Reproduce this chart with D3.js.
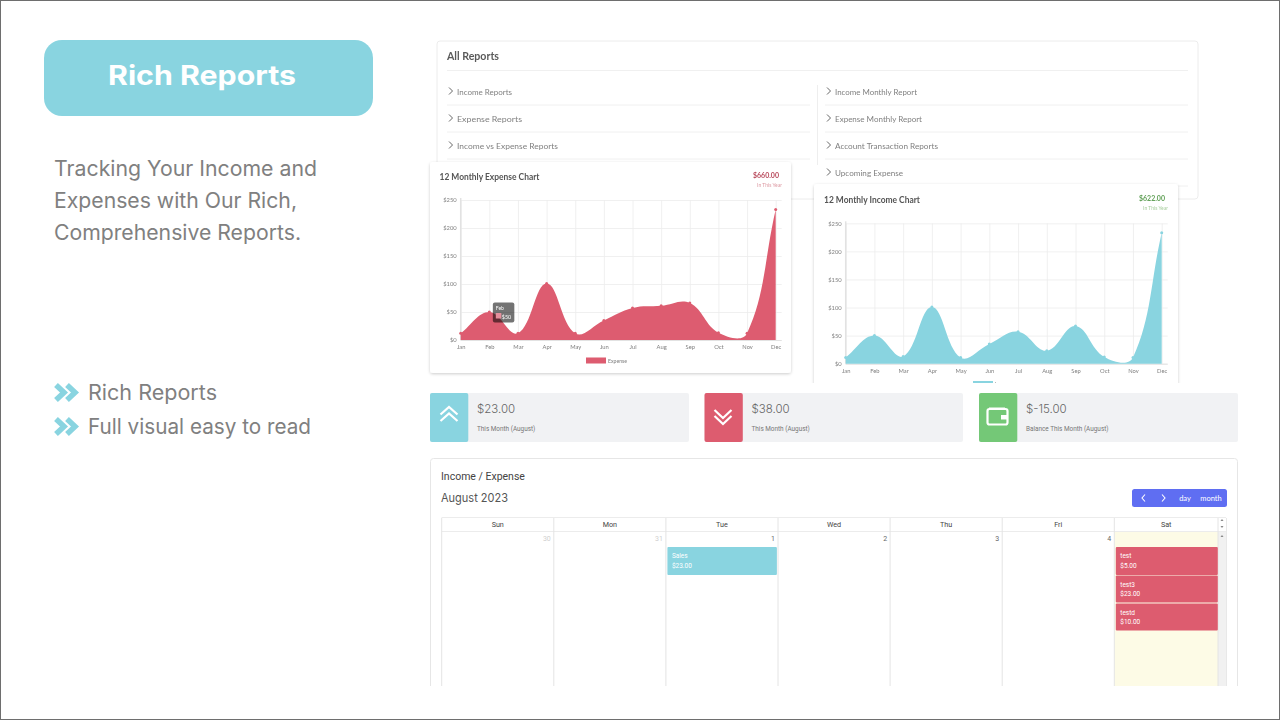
<!DOCTYPE html>
<html><head><meta charset="utf-8">
<script src="https://cdn.jsdelivr.net/npm/d3@7/dist/d3.min.js"></script>
<style>html,body{margin:0;padding:0;background:#fff}svg{display:block}text{font-family:Lato,"Open Sans",sans-serif}</style>
</head><body><div id="c"></div>
<script>
(function(){
const months=["Jan","Feb","Mar","Apr","May","Jun","Jul","Aug","Sep","Oct","Nov","Dec"];
const expenseValues=[12,50,12,101,12,35,57,61,66,13,12,233];
const incomeValues=[11,50,13,101,11,35,57,23,67,12,11,233];
const yTicks=[0,50,100,150,200,250];
const reportsLeft=["Income Reports","Expense Reports","Income vs Expense Reports"];
const reportsRight=["Income Monthly Report","Expense Monthly Report","Account Transaction Reports","Upcoming Expense"];
const bullets=["Rich Reports","Full visual easy to read"];
const introLines=["Tracking Your Income and","Expenses with Our Rich,","Comprehensive Reports."];
const weekdays=["Sun","Mon","Tue","Wed","Thu","Fri","Sat"];
const dayNumbers=["30","31","1","2","3","4",""];
const statValues=["$23.00","$38.00","$-15.00"];
const statLabels=["This Month (August)","This Month (August)","Balance This Month (August)"];
const satEvents=[["test","$5.00"],["test3","$23.00"],["testd","$10.00"]];
const teal="#89d4e0",red="#dd5c6f",green="#74c877",grey="#808080";

const svg=d3.select("#c").append("svg").attr("width",1280).attr("height",720);
const defs=svg.append("defs");
const sh=defs.append("filter").attr("id","sh").attr("x","-5%").attr("y","-5%").attr("width","110%").attr("height","110%");
sh.append("feDropShadow").attr("dx",0).attr("dy",1).attr("stdDeviation",1.6).attr("flood-color","#000").attr("flood-opacity",.2);
const bl=defs.append("filter").attr("id","bl").attr("x","-2%").attr("y","-2%").attr("width","104%").attr("height","104%");
bl.append("feGaussianBlur").attr("stdDeviation",.5);
defs.append("clipPath").attr("id","clipTop").append("rect").attr("x",420).attr("y",30).attr("width",800).attr("height",353);
defs.append("clipPath").attr("id","clipCal").append("rect").attr("x",425).attr("y",450).attr("width",820).attr("height",236);

function txt(g,s,x,y,size,fill,o={}){
  const t=g.append("text").attr("x",x).attr("y",y).attr("font-size",size).attr("fill",fill).text(s);
  if(o.anchor)t.attr("text-anchor",o.anchor);
  if(o.weight)t.attr("font-weight",o.weight);
  if(o.family)t.style("font-family",o.family);
  if(o.len)t.attr("textLength",o.len).attr("lengthAdjust","spacingAndGlyphs");
  return t;
}
function chev(g,x,y,w,h,stroke,sw){
  g.append("path").attr("d",d3.line()([[x,y-h],[x+w,y],[x,y+h]])).attr("fill","none").attr("stroke",stroke).attr("stroke-width",sw);
}
svg.append("rect").attr("x",.5).attr("y",.5).attr("width",1279).attr("height",719).attr("fill","#fff").attr("stroke","#6e6e6e");

/* left panel */
svg.append("rect").attr("x",44).attr("y",40).attr("width",329).attr("height",76).attr("rx",18).attr("fill",teal);
txt(svg,"Rich Reports",202,85,27,"#fff",{anchor:"middle",weight:700,family:"Inter",len:188});
const introWidths=[263,243,247];
introLines.forEach((l,i)=>txt(svg,l,54,176+i*32,21,grey,{family:"Inter",len:introWidths[i]}));
const bulletWidths=[129,223];
bullets.forEach((l,i)=>{
  const y=393+i*34;
  [0,11].forEach(dx=>chev(svg,56+dx,y-.5,8,7.5,teal,5.5));
  txt(svg,l,88,y+7,21,grey,{family:"Inter",len:bulletWidths[i]});
});

/* blurred screenshot region */
const shot=svg.append("g").attr("clip-path","url(#clipTop)").append("g").attr("filter","url(#bl)");
shot.append("rect").attr("x",437).attr("y",41).attr("width",761).attr("height",158).attr("rx",3).attr("fill","#fff").attr("stroke","#ececec");
txt(shot,"All Reports",447,60,10.5,"#5a5a5a",{weight:700,len:52});
shot.append("line").attr("x1",447).attr("x2",1188).attr("y1",70.5).attr("y2",70.5).attr("stroke","#f0f0f0");
shot.append("line").attr("x1",817.5).attr("x2",817.5).attr("y1",85).attr("y2",165).attr("stroke","#eee");
const rowY=d3.scaleLinear().domain([0,1]).range([94.5,121.5]);
const leftLens=[55,65,101],rightLens=[82,87,103,68];
function reportRows(list,lens,xc,xt,xe){
  list.forEach((s,i)=>{
    const y=rowY(i);
    chev(shot,xc,y-3.5,3.5,3.5,"#666",1);
    txt(shot,s,xt,y,8,"#808080",{len:lens[i]});
    shot.append("line").attr("x1",xc-2).attr("x2",xe).attr("y1",y+10.5).attr("y2",y+10.5).attr("stroke","#f0f0f0");
  });
}
reportRows(reportsLeft,leftLens,449,457,810);
reportRows(reportsRight,rightLens,827,835,1188);

function chartjsPath(pts){
  const t=.4,p=d3.path();
  const d=(a,b)=>Math.hypot(a[0]-b[0],a[1]-b[1]);
  const ctrl=pts.map((c,i)=>{
    const a=pts[i-1]||c,b=pts[i+1]||c,d01=d(a,c),d12=d(c,b);
    const s=d01+d12||1,fa=t*d01/s,fb=t*d12/s;
    return {prev:[c[0]-fa*(b[0]-a[0]),c[1]-fa*(b[1]-a[1])],next:[c[0]+fb*(b[0]-a[0]),c[1]+fb*(b[1]-a[1])]};
  });
  p.moveTo(pts[0][0],pts[0][1]);
  for(let i=1;i<pts.length;i++)p.bezierCurveTo(ctrl[i-1].next[0],ctrl[i-1].next[1],ctrl[i].prev[0],ctrl[i].prev[1],pts[i][0],pts[i][1]);
  return p.toString();
}
function chartCard(o){
  const g=shot.append("g");
  g.append("rect").attr("x",o.box[0]).attr("y",o.box[1]).attr("width",o.box[2]).attr("height",o.box[3]).attr("rx",3).attr("fill","#fff").attr("filter","url(#sh)");
  txt(g,o.title,o.titleX,o.titleY,8.5,"#555",{weight:700,len:o.titleLen});
  txt(g,o.total,o.totalX,o.titleY-2,7,o.totalColor,{anchor:"end",weight:700});
  txt(g,"In This Year",o.totalX+3,o.titleY+7,5,o.subColor,{anchor:"end"});
  const x=d3.scalePoint().domain(months).range(o.xr);
  const y=d3.scaleLinear().domain([0,250]).range(o.yr);
  const gx=g.append("g").attr("transform",`translate(0,${o.yr[0]})`).call(d3.axisBottom(x).tickSize(-(o.yr[0]-o.yr[1])).tickPadding(5));
  const gy=g.append("g").attr("transform",`translate(${o.xr[0]},0)`).call(d3.axisLeft(y).tickValues(yTicks).tickFormat(d=>"$"+d).tickSize(-(o.xr[1]-o.xr[0]+6)).tickPadding(4));
  [gx,gy].forEach(a=>{
    a.select(".domain").remove();
    a.selectAll("line").attr("stroke","#ececec").attr("stroke-width",.8);
    a.selectAll("text").attr("font-size",5.8).attr("fill","#808080");
  });
  g.append("line").attr("x1",o.xr[0]).attr("x2",o.xr[0]).attr("y1",o.yr[1]-2).attr("y2",o.yr[0]).attr("stroke","#e2e2e2").attr("stroke-width",1.5);
  g.append("line").attr("x1",o.xr[0]).attr("x2",o.xr[1]+6).attr("y1",o.yr[0]+.5).attr("y2",o.yr[0]+.5).attr("stroke","#e2e2e2");
  const pts=months.map((m,i)=>[x(m),y(o.values[i])]);
  g.append("path").attr("d",chartjsPath(pts)+`L${x("Dec")},${y(0)}L${x("Jan")},${y(0)}Z`).attr("fill",o.color);
  g.selectAll("circle.pt").data(months).join("circle").attr("class","pt").attr("cx",m=>x(m)).attr("cy",(m,i)=>y(o.values[i])).attr("r",1.5).attr("fill",o.color);
  g.append("rect").attr("x",o.legend[0]).attr("y",o.legend[1]).attr("width",20).attr("height",6).attr("fill",o.color);
  txt(g,o.legendLabel,o.legend[0]+22,o.legend[1]+5,5.2,"#808080");
  return {g,x,y};
}
const exp=chartCard({box:[430,162,361,211],title:"12 Monthly Expense Chart",titleX:439.5,titleY:180,titleLen:100,total:"$660.00",totalX:779,totalColor:"#b94a5c",subColor:"#dd9aa3",
  xr:[460.7,775.7],yr:[340,200],values:expenseValues,color:red,legend:[586,357.5],legendLabel:"Expense"});
const tipX=exp.x("Feb")+3.5,tipY=exp.y(50)-9.5;
exp.g.append("rect").attr("x",tipX).attr("y",tipY).attr("width",21.5).attr("height",20).attr("rx",2).attr("fill","#000").attr("opacity",.55);
txt(exp.g,"Feb",tipX+3,tipY+7,5,"#fff");
exp.g.append("rect").attr("x",tipX+3).attr("y",tipY+10.5).attr("width",5.5).attr("height",5.5).attr("fill","#e58f9c");
txt(exp.g,"$50",tipX+9,tipY+16,5.4,"#fff");
chartCard({box:[814,184,364,220],title:"12 Monthly Income Chart",titleX:824,titleY:203,titleLen:96,total:"$622.00",totalX:1165,totalColor:"#5f9f55",subColor:"#a9cf9f",
  xr:[845.7,1161.7],yr:[363.7,223.3],values:incomeValues,color:teal,legend:[973,381],legendLabel:"Income"});

/* stat tiles */
const tileX=d3.scaleLinear().domain([0,1,2]).range([430,704.5,979]);
const tileColors=[teal,red,green];
const tiles=svg.append("g").style("opacity",.999);
statValues.forEach((v,i)=>{
  const x=tileX(i),w=i==0?259:i==1?258.5:259;
  tiles.append("rect").attr("x",x).attr("y",393).attr("width",w).attr("height",49).attr("rx",2).attr("fill","#f1f2f4");
  tiles.append("rect").attr("x",x).attr("y",393).attr("width",38.3).attr("height",49).attr("rx",2).attr("fill",tileColors[i]);
  txt(tiles,v,x+47,413,11.5,"#666",{family:"Inter"}).attr("font-weight",300);
  txt(tiles,statLabels[i],x+47,431,6.4,"#777",{family:"Roboto"});
});
const ic=svg.append("g").attr("fill","none").attr("stroke","#fff").attr("stroke-width",2.2);
[411,417.5].forEach(y=>ic.append("path").attr("d",d3.line()([[440.5,y+3.5],[449,y-4],[457.5,y+3.5]])));
[414,420].forEach(y=>ic.append("path").attr("d",d3.line()([[714.5,y-4],[723,y+4],[731.5,y-4]])));
ic.append("rect").attr("x",987.5).attr("y",409).attr("width",20).attr("height",15.5).attr("rx",2);
ic.append("path").attr("d","M1001 415H1007.5V419.5H1001Z").attr("fill","#fff").attr("stroke","none");
ic.append("path").attr("d","M989 408H1005").attr("stroke-width",1);

/* calendar */
const cal=svg.append("g").attr("clip-path","url(#clipCal)").style("opacity",.999);
cal.append("rect").attr("x",430.5).attr("y",458.5).attr("width",807).attr("height",300).attr("rx",3).attr("fill","#fff").attr("stroke","#e6e6e6");
txt(cal,"Income / Expense",441,479.5,10.5,"#444",{family:"Roboto"});
txt(cal,"August 2023",441,502,11.5,"#555",{family:"Inter",len:67});
cal.append("rect").attr("x",1132).attr("y",489).attr("width",95).attr("height",18).attr("rx",2.5).attr("fill","#5f6ef2");
chev(cal,1145,498,-3,3.5,"#fff",1.1);chev(cal,1162,498,3,3.5,"#fff",1.1);
txt(cal,"day",1185,501,7.5,"#fff",{anchor:"middle"});
txt(cal,"month",1211,501,7.5,"#fff",{anchor:"middle"});
const col=d3.scaleBand().domain(weekdays).range([441.7,1226.4]);
const lineC="#e4e4e4";
cal.append("rect").attr("x",col("Sat")).attr("y",532).attr("width",col.bandwidth()).attr("height",160).attr("fill","#fdfbe6");
cal.append("rect").attr("x",1218).attr("y",532).attr("width",8.5).attr("height",160).attr("fill","#f1f1f1");
[517.5,531.5].forEach(y=>cal.append("line").attr("x1",441.5).attr("x2",1226).attr("y1",y).attr("y2",y).attr("stroke","#ececec"));
weekdays.forEach((d,i)=>{
  const x=col(d);
  cal.append("line").attr("x1",x).attr("x2",x).attr("y1",518).attr("y2",690).attr("stroke",lineC);
  const cx=i==6?(x+1218)/2:x+col.bandwidth()/2;
  txt(cal,d,cx,527,7.2,"#444",{anchor:"middle",family:"Roboto"});
  txt(cal,dayNumbers[i],x+col.bandwidth()-3,541,7,i<2?"#cfcfcf":"#666",{anchor:"end",family:"Roboto"});
});
cal.append("line").attr("x1",1218).attr("x2",1218).attr("y1",518).attr("y2",690).attr("stroke",lineC);
cal.append("line").attr("x1",1226.5).attr("x2",1226.5).attr("y1",518).attr("y2",690).attr("stroke","#e8e8e8");
[[1222,521,-1],[1222,526,1],[1222,537,-1]].forEach(a=>cal.append("path").attr("d",`M${a[0]-1.5} ${a[1]}L${a[0]+1.5} ${a[1]}L${a[0]} ${a[1]+a[2]*2}Z`).attr("fill","#888"));
function ev(x,y,w,h,c,a,b){
  cal.append("rect").attr("x",x).attr("y",y).attr("width",w).attr("height",h).attr("rx",1).attr("fill",c);
  txt(cal,a,x+4.5,y+11,6.5,"#fff",{family:"Roboto"});
  txt(cal,b,x+4.5,y+20.5,6.5,"#fff",{family:"Roboto"});
}
ev(col("Tue")+1.5,547,109.5,28,teal,"Sales","$23.00");
const evY=d3.scaleLinear().domain([0,1]).range([547,575.5]);
satEvents.forEach((e,i)=>ev(col("Sat")+1.5,i==2?603.5:evY(i),102,i==0?28:27,red,e[0],e[1]));
})();
</script></body></html>
